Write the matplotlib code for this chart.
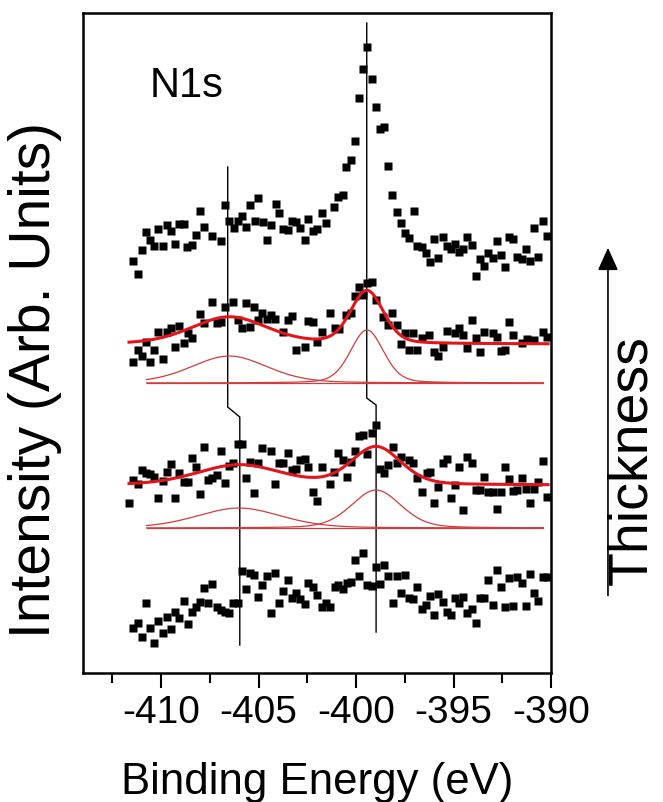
import numpy as np
import matplotlib
matplotlib.use("Agg")
import matplotlib.pyplot as plt
from matplotlib import font_manager

# N1s spectra, bottom (thin film) to top (thick film); intensity in arbitrary units
e_top = [-411.42, -411.19, -410.99, -410.78, -410.56, -410.34, -410.14, -409.91, -409.69, -409.49,
         -409.28, -409.08, -408.84, -408.65, -408.39, -408.22, -407.98, -407.78, -407.37, -406.92,
         -406.72, -406.51, -406.27, -406.07, -405.86, -405.66, -405.44, -405.18, -405.01, -404.78,
         -404.56, -404.36, -404.12, -403.93, -403.73, -403.50, -403.30, -403.09, -402.87, -402.62,
         -402.45, -402.21, -402.00, -401.76, -401.55, -401.13, -400.91, -400.68, -400.51, -400.27,
         -400.05, -399.85, -399.63, -399.42, -399.19, -398.97, -398.77, -398.55, -398.34, -398.14,
         -397.91, -397.71, -397.49, -397.27, -397.03, -396.86, -396.63, -396.41, -396.21, -396.00,
         -395.78, -395.55, -395.35, -395.14, -394.92, -394.70, -394.50, -394.29, -394.07, -393.86,
         -393.64, -393.42, -393.22, -392.99, -392.78, -392.58, -392.36, -392.15, -391.93, -391.73,
         -391.50, -391.28, -391.08, -390.87, -390.65, -390.43, -390.22]
i_top = [412, 399, 423, 441, 433, 427, 444, 427, 448, 442,
         429, 449, 449, 426, 428, 438, 462, 446, 437, 432,
         468, 452, 445, 452, 457, 446, 468, 452, 475, 451,
         433, 448, 469, 460, 444, 443, 452, 451, 445, 433,
         454, 442, 444, 460, 450, 466, 476, 478, 506, 513,
         532, 575, 604, 626, 594, 566, 544, 546, 507, 478,
         461, 450, 440, 435, 462, 427, 426, 420, 411, 434,
         415, 436, 427, 424, 429, 421, 424, 436, 428, 397,
         414, 407, 420, 415, 432, 418, 406, 436, 434, 416,
         414, 424, 412, 445, 416, 452, 437]

e_fit_hi = [-411.42, -411.19, -410.99, -410.78, -410.56, -410.34, -410.14, -409.91, -409.69, -409.49,
            -409.28, -409.08, -408.84, -408.63, -408.39, -407.98, -407.78, -407.37, -407.14, -406.92,
            -406.72, -406.29, -406.07, -405.86, -405.64, -405.44, -405.22, -405.01, -404.80, -404.58,
            -404.36, -404.15, -403.73, -403.50, -403.30, -403.09, -402.62, -402.45, -402.21, -402.00,
            -401.76, -401.35, -401.08, -400.86, -400.51, -400.27, -400.05, -399.83, -399.63, -399.42,
            -399.19, -398.97, -398.60, -398.34, -398.14, -397.91, -397.71, -397.49, -397.27, -397.06,
            -396.86, -396.63, -396.24, -396.00, -395.78, -395.55, -395.35, -394.92, -394.70, -394.50,
            -394.29, -394.07, -393.85, -393.64, -393.42, -392.99, -392.78, -392.58, -392.36, -392.14,
            -391.93, -391.50, -391.25, -390.87, -390.43, -390.22]
i_fit_hi = [311, 323, 317, 331, 311, 323, 341, 314, 341, 345,
            326, 347, 330, 340, 335, 359, 350, 371, 350, 351,
            366, 371, 353, 345, 370, 346, 366, 353, 360, 354,
            358, 354, 341, 353, 357, 323, 326, 352, 351, 331,
            341, 360, 345, 344, 358, 360, 377, 386, 378, 390,
            391, 373, 356, 348, 360, 348, 329, 340, 323, 340,
            323, 335, 338, 321, 317, 326, 342, 340, 345, 338,
            325, 353, 335, 321, 341, 340, 336, 322, 323, 351,
            338, 330, 334, 333, 341, 336]

e_fit_lo = [-411.64, -411.42, -411.19, -410.99, -410.78, -410.56, -410.34, -410.14, -409.91, -409.69,
            -409.49, -409.28, -409.08, -408.84, -408.63, -408.41, -408.22, -407.98, -407.78, -407.57,
            -407.37, -407.14, -406.92, -406.72, -406.51, -406.29, -406.07, -405.86, -405.66, -405.44,
            -405.22, -405.01, -404.80, -404.36, -404.15, -403.95, -403.73, -403.50, -403.30, -403.09,
            -402.87, -402.62, -402.45, -402.21, -402.00, -401.76, -401.35, -401.13, -400.91, -400.68,
            -400.48, -400.27, -400.05, -399.83, -399.63, -399.42, -399.19, -398.97, -398.77, -398.56,
            -398.34, -398.12, -397.91, -397.71, -397.27, -397.06, -396.86, -396.63, -396.37, -396.21,
            -396.00, -395.78, -395.55, -395.35, -395.14, -394.92, -394.70, -394.50, -394.29, -394.07,
            -393.85, -393.64, -393.44, -393.22, -392.99, -392.78, -392.58, -392.36, -392.14, -391.93,
            -391.73, -391.50, -391.28, -391.08, -390.87, -390.65, -390.43, -390.22]
i_fit_lo = [170, 193, 189, 203, 200, 199, 196, 175, 192, 201,
            209, 175, 200, 191, 191, 215, 206, 179, 226, 193,
            195, 198, 222, 190, 207, 210, 229, 229, 195, 211,
            180, 210, 225, 222, 189, 210, 210, 220, 203, 204,
            213, 214, 206, 181, 172, 206, 189, 201, 220, 213,
            196, 211, 222, 237, 238, 219, 240, 248, 204, 200,
            208, 226, 210, 216, 213, 210, 195, 181, 200, 201,
            170, 186, 210, 214, 175, 188, 206, 163, 216, 210,
            183, 183, 196, 181, 181, 164, 181, 206, 194, 182,
            183, 195, 184, 170, 184, 191, 212, 176]

e_bottom = [-411.42, -411.19, -410.99, -410.78, -410.56, -410.34, -410.14, -409.91, -409.69, -409.49,
            -409.28, -409.08, -408.84, -408.63, -408.41, -408.22, -407.98, -407.78, -407.57, -407.37,
            -407.14, -406.92, -406.72, -406.51, -406.29, -406.04, -405.86, -405.66, -405.44, -405.22,
            -405.01, -404.80, -404.58, -404.36, -404.15, -403.95, -403.73, -403.50, -403.30, -403.09,
            -402.87, -402.62, -402.45, -402.21, -402.00, -401.76, -401.55, -401.35, -401.08, -400.91,
            -400.68, -400.48, -400.27, -400.05, -399.83, -399.63, -399.42, -399.19, -398.97, -398.77,
            -398.56, -398.34, -398.12, -397.91, -397.71, -397.49, -397.27, -397.06, -396.86, -396.63,
            -396.41, -396.21, -396.00, -395.78, -395.55, -395.35, -395.14, -394.92, -394.70, -394.50,
            -394.29, -394.07, -393.86, -393.64, -393.42, -393.22, -392.99, -392.78, -392.58, -392.36,
            -392.14, -391.93, -391.73, -391.50, -391.28, -391.08, -390.87, -390.65, -390.43, -390.22]
i_bottom = [45, 50, 36, 70, 45, 30, 52, 40, 56, 44,
            61, 55, 72, 49, 61, 66, 71, 85, 70, 89,
            66, 63, 61, 60, 70, 70, 102, 84, 100, 98,
            76, 88, 97, 60, 100, 70, 82, 93, 75, 80,
            74, 69, 90, 86, 78, 66, 70, 66, 86, 88,
            84, 90, 91, 113, 97, 120, 88, 87, 106, 89,
            108, 97, 70, 97, 80, 98, 75, 74, 86, 64,
            68, 77, 58, 79, 71, 61, 58, 75, 70, 76,
            60, 64, 50, 75, 75, 93, 68, 103, 86, 66,
            95, 67, 96, 90, 67, 99, 80, 72, 96, 96]

# peak fits: (centre eV, height, fwhm eV) plus background levels
peaks_hi = [(-406.50, 27, 4.6), (-399.44, 53, 2.0)]
peaks_lo = [(-406.00, 20, 5.1), (-398.97, 38, 3.0)]
bg_hi = 329
bg_lo = 188
comp_base_hi = 290
comp_base_lo = 145
fit_range = (-411.64, -390.15)
comp_range = (-410.74, -390.39)

# guide lines that follow the two peak positions through the series
guide_left_e = [-406.58, -406.58, -405.96, -405.96]
guide_left_i = [506, 266, 256, 28]
guide_right_e = [-399.45, -399.45, -398.97, -398.97]
guide_right_i = [650, 275, 268, 41]

RED = "#e3151b"
THIN_RED = "#d23c3c"


def pvoigt(x, c, h, w, eta=0.25):
    """pseudo-Voigt line shape"""
    g = np.exp(-4.0 * np.log(2.0) * ((x - c) / w) ** 2)
    l = 1.0 / (1.0 + 4.0 * ((x - c) / w) ** 2)
    return h * ((1.0 - eta) * g + eta * l)


def draw_fit(axe, peaks, bg, base) -> int:
    """envelope plus the individual components"""
    x = np.linspace(fit_range[0], fit_range[1], 400)
    total = sum(pvoigt(x, *p) for p in peaks)
    axe.plot(x, bg + total, color=RED, lw=2.2, zorder=5)

    xc = np.linspace(comp_range[0], comp_range[1], 400)
    axe.plot(xc, np.full_like(xc, base), color=THIN_RED, lw=0.9, zorder=4)
    for p in peaks:
        axe.plot(xc, base + pvoigt(xc, *p), color=THIN_RED, lw=0.9, zorder=4)
    return 0


def main() -> int:
    installed = {f.name for f in font_manager.fontManager.ttflist}
    narrow = "Liberation Sans Narrow" if "Liberation Sans Narrow" in installed else "Liberation Sans"
    plt.rcParams["font.family"] = ["Liberation Sans", "DejaVu Sans"]
    plt.rcParams["axes.unicode_minus"] = False

    fig = plt.figure(figsize=(6.63, 8.02), dpi=100)
    axe = fig.add_axes([0.1252, 0.1608, 0.7059, 0.8230])

    for e, i in [(e_top, i_top), (e_fit_hi, i_fit_hi), (e_fit_lo, i_fit_lo), (e_bottom, i_bottom)]:
        axe.plot(e, i, linestyle="none", marker="s", ms=6.0, mfc="black", mec="none", zorder=2)

    draw_fit(axe, peaks_hi, bg_hi, comp_base_hi)
    draw_fit(axe, peaks_lo, bg_lo, comp_base_lo)

    axe.plot(guide_left_e, guide_left_i, color="black", lw=1.0, zorder=3)
    axe.plot(guide_right_e, guide_right_i, color="black", lw=1.0, zorder=3)

    axe.set_xlim(-414, -390)
    axe.set_ylim(0, 660)
    axe.set_xticks([-410, -405, -400, -395, -390])
    axe.set_xticks(np.arange(-412.5, -390, 5.0), minor=True)
    axe.set_yticks([])
    axe.tick_params(axis="x", which="major", direction="out", length=11, width=1.5,
                    labelsize=28, pad=5, labelfontfamily=narrow)
    axe.tick_params(axis="x", which="minor", direction="out", length=7, width=1.5)
    for sp in axe.spines.values():
        sp.set_linewidth(1.8)

    axe.text(0.143, 0.873, "N1s", transform=axe.transAxes, fontsize=30, va="baseline", ha="left")

    fig.text(0.478, 0.010, "Binding Energy (eV)", fontsize=31.5, family=narrow,
             ha="center", va="baseline")
    fig.text(0.053, 0.526, "Intensity (Arb. Units)", fontsize=41, rotation=90,
             ha="center", va="center")
    fig.text(0.953, 0.426, "Thickness", fontsize=40, rotation=90, ha="center", va="center")

    fig.patches.append(matplotlib.patches.FancyArrowPatch(
        (0.917, 0.254), (0.917, 0.6945), transform=fig.transFigure,
        arrowstyle="-|>,head_length=1.0,head_width=0.45", mutation_scale=14,
        color="black", lw=1.2))

    fig.savefig("out.png", dpi=100)
    return 0


if __name__ == "__main__":
    main()
